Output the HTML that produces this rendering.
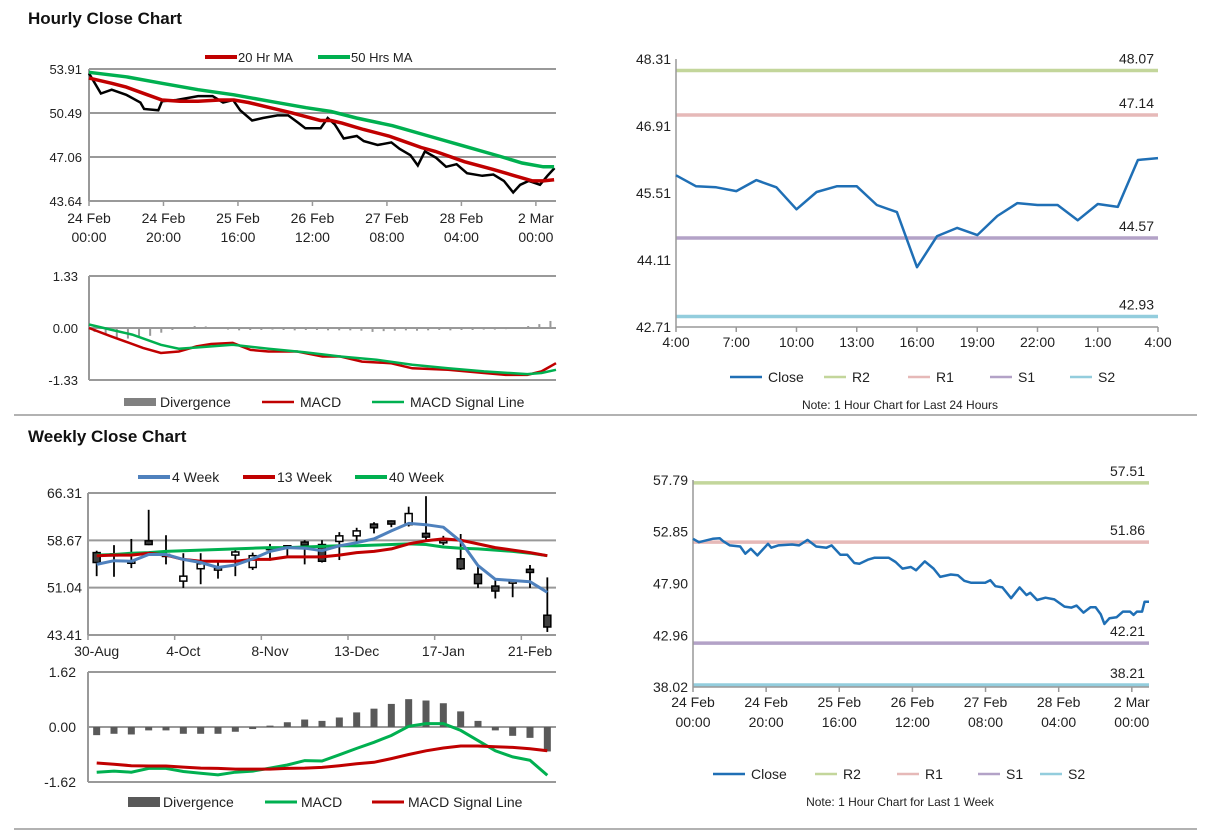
<!DOCTYPE html>
<html><head><meta charset="utf-8"><style>
html,body{margin:0;padding:0;background:#fff;width:1212px;height:834px;overflow:hidden}
svg{position:absolute;left:0;top:0;font-family:"Liberation Sans",Arial,sans-serif}
</style></head><body>
<svg id="s" width="1212" height="834" viewBox="0 0 1212 834">
<text x="28" y="24" font-size="17" font-weight="bold" fill="#111">Hourly Close Chart</text>
<text x="28" y="442" font-size="17" font-weight="bold" fill="#111">Weekly Close Chart</text>
<line x1="14" y1="415" x2="1197" y2="415" stroke="#999" stroke-width="1.5"/>
<line x1="14" y1="829" x2="1197" y2="829" stroke="#999" stroke-width="1.5"/>
</svg>
<script>
// ---------- DATA ----------
// Hourly close (top-left)
const hcT=[0,3.2,6.1,10,13.8,14.8,18.6,19.6,23.5,29.3,33.2,36,38.7,40.6,43.8,46.7,50.6,53.5,56.3,58.1,62.2,64.1,66,68.4,71.9,73.8,77.5,81.2,83.4,86.3,88.3,90.2,93.2,95.9,98.7,101.5,105.6,108.6,111.4,113.9,115.8,118.1,121.1,123.1,125];
const hcClose=[53.57,52.0,52.3,51.9,51.3,50.8,50.7,51.4,51.5,51.8,51.8,51.3,51.5,50.7,49.9,50.1,50.3,50.3,49.7,49.3,49.3,50.1,49.6,48.5,48.7,48.3,48.0,48.2,47.7,47.2,46.4,47.5,47.0,46.3,46.5,45.8,45.6,45.7,45.2,44.3,44.9,45.2,44.9,45.6,46.2];
const ma20T=[0,6.1,10,15.7,19.6,24.4,29.3,35.1,38.9,42.8,48.6,54.4,62.1,65,67.9,73.7,80.5,83.4,89.2,93,100.8,108.5,114.3,119.1,122,124.9];
const ma20=[53.2,52.8,52.5,51.9,51.5,51.4,51.4,51.5,51.5,51.3,50.9,50.5,49.9,49.9,49.7,49.2,48.7,48.4,47.8,47.5,46.7,46.1,45.6,45.2,45.2,45.3];
const ma50T=[0,10,19.6,29.3,38.9,48.6,58.3,65,71.8,81.5,91.2,100.8,110.5,116.3,122,124.9];
const ma50=[53.65,53.3,52.8,52.3,51.9,51.4,50.9,50.6,50.1,49.5,48.7,47.9,47.1,46.6,46.3,46.3];
const hTicks=["24 Feb|00:00","24 Feb|20:00","25 Feb|16:00","26 Feb|12:00","27 Feb|08:00","28 Feb|04:00","2 Mar|00:00"];
const hYTicks=[53.91,50.49,47.06,43.64];
// Hourly MACD
const hmT=[0,5.8,9.6,14.5,19.3,24.1,28.9,32.8,38.6,43.4,48.2,55.9,62.7,67.5,73.3,81,86.8,96.4,106.1,111.9,117.7,121.5,125.4];
const hMacd=[0,-0.21,-0.34,-0.51,-0.64,-0.6,-0.47,-0.41,-0.38,-0.56,-0.6,-0.6,-0.73,-0.73,-0.86,-0.9,-1.03,-1.07,-1.15,-1.2,-1.2,-1.11,-0.9];
const hsT=[0,5.8,11.6,19.3,24.1,28.9,38.6,48.2,57.9,67.5,77.2,86.8,96.4,106.1,117.7,121.5,125.4];
const hSig=[0.09,-0.04,-0.17,-0.43,-0.53,-0.5,-0.43,-0.53,-0.62,-0.73,-0.81,-0.94,-1.03,-1.11,-1.18,-1.15,-1.07];
const hDiv=[-0.1,-0.18,-0.25,-0.27,-0.25,-0.2,-0.12,-0.05,0.0,0.05,0.04,0.0,-0.04,-0.06,-0.05,-0.05,-0.04,-0.05,-0.06,-0.05,-0.05,-0.06,-0.06,-0.06,-0.07,-0.1,-0.08,-0.07,-0.06,-0.07,-0.06,-0.05,-0.06,-0.05,-0.05,-0.04,-0.04,-0.03,0.0,0.05,0.1,0.18];
const hMYTicks=[1.33,0.00,-1.33];
// 24h chart (top-right)
const dCats=["4:00","5:00","6:00","7:00","8:00","9:00","10:00","11:00","12:00","13:00","14:00","15:00","16:00","17:00","18:00","19:00","20:00","21:00","22:00","23:00","0:00","1:00","2:00","3:00","4:00"];
const dClose=[45.88,45.65,45.63,45.55,45.78,45.63,45.17,45.53,45.65,45.65,45.26,45.11,43.96,44.61,44.78,44.63,45.03,45.3,45.26,45.26,44.94,45.28,45.22,46.2,46.24];
const dLevels=[48.07,47.14,44.57,42.93];
const dYTicks=[48.31,46.91,45.51,44.11,42.71];
// Weekly candles
const wCats=["30-Aug","6-Sep","13-Sep","20-Sep","27-Sep","4-Oct","11-Oct","18-Oct","25-Oct","1-Nov","8-Nov","15-Nov","22-Nov","29-Nov","6-Dec","13-Dec","20-Dec","27-Dec","3-Jan","10-Jan","17-Jan","24-Jan","31-Jan","7-Feb","14-Feb","21-Feb","28-Feb"];
const wOpen=[56.7,56.5,55.3,58.6,56.4,52.1,54.1,54.2,56.3,54.3,57.5,57.8,58.4,58.0,58.5,59.4,61.3,61.8,61.2,59.8,58.6,55.7,53.2,51.3,52.1,54.0,46.6];
const wClose=[55.1,56.5,55.3,58.0,56.4,52.9,54.9,54.2,56.8,56.2,57.5,57.8,57.9,55.3,59.4,60.2,60.7,61.3,63.0,59.2,58.6,54.1,51.7,50.5,52.1,53.5,44.7];
const wHigh=[57.0,57.9,58.9,63.6,59.5,56.6,56.6,55.4,57.3,56.7,58.1,57.9,58.7,58.7,60.0,60.7,61.6,61.9,64.1,65.8,59.4,59.7,54.5,52.3,52.4,54.7,52.7];
const wLow=[52.9,52.8,54.2,57.9,54.8,51.0,51.6,52.5,52.9,53.9,55.4,56.2,54.8,55.1,55.5,58.5,59.8,60.8,60.9,58.5,57.9,53.9,51.0,49.3,49.5,51.0,43.9];
const w4=[54.8,55.4,55.3,56.4,56.4,55.6,55.1,54.3,54.7,55.7,56.9,57.5,57.4,57.0,57.8,58.3,58.9,60.2,61.4,61.2,60.8,58.5,54.6,52.4,52.2,52.0,50.3];
const w13=[56.2,56.3,56.3,56.6,56.3,55.6,55.3,55.3,55.3,55.6,55.6,56.0,56.0,56.0,56.3,56.7,56.9,57.3,58.1,58.6,58.9,58.7,58.1,57.5,57.1,56.7,56.2];
const w40=[56.3,56.4,56.6,56.7,56.9,57.0,57.1,57.2,57.3,57.4,57.5,57.5,57.6,57.7,57.8,57.8,57.9,58.0,58.1,58.0,57.6,57.4,57.3,57.1,56.9,56.6,56.2];
const wXLabels=["30-Aug","4-Oct","8-Nov","13-Dec","17-Jan","21-Feb"];
const wYTicks=[66.31,58.67,51.04,43.41];
// Weekly MACD
const wDiv=[-0.24,-0.2,-0.22,-0.1,-0.1,-0.2,-0.2,-0.2,-0.14,-0.06,0.04,0.14,0.22,0.18,0.28,0.43,0.54,0.68,0.82,0.78,0.7,0.46,0.18,-0.1,-0.26,-0.32,-0.72];
const wMacd=[-1.33,-1.3,-1.33,-1.22,-1.22,-1.31,-1.36,-1.41,-1.33,-1.3,-1.21,-1.12,-0.99,-1.0,-0.82,-0.63,-0.45,-0.25,0.02,0.1,0.1,-0.1,-0.4,-0.7,-0.88,-0.98,-1.42];
const wSig=[-1.06,-1.1,-1.14,-1.15,-1.15,-1.18,-1.21,-1.22,-1.24,-1.24,-1.24,-1.22,-1.21,-1.19,-1.14,-1.08,-1.04,-0.93,-0.81,-0.7,-0.62,-0.56,-0.56,-0.58,-0.6,-0.64,-0.7];
const wMYTicks=[1.62,0.00,-1.62];
// 1-week chart (bottom-right)
const kT=[0,1.6,5.4,7.3,8.2,10.1,12.9,14.3,15.8,17.6,20.5,21.4,23.3,27.1,29,31.3,33.7,36.5,37.9,40.3,42.2,44.1,45.5,47.8,49.7,53.5,55.4,57.3,59.6,61,63.4,65.8,67.6,70.5,72.4,74.2,76.1,79.9,81.3,82.7,84.6,87,89.3,91.2,92.2,94.1,96.4,98.8,101.6,103.5,104.9,106.8,108.7,110.1,111.5,112.5,113.9,115.8,117.6,119.5,120.5,121.4,122.8,123.5,124.7];
const kClose=[52.17,51.85,52.17,52.23,51.95,51.54,51.44,50.75,51.22,50.59,51.7,51.32,51.54,51.63,51.54,52.07,51.44,51.32,51.54,50.65,50.65,49.86,49.8,50.18,50.37,50.37,49.96,49.33,49.48,49.17,50.02,49.33,48.54,48.76,48.7,48.16,47.97,47.97,48.22,47.65,47.53,46.5,47.53,46.8,47.02,46.33,46.55,46.39,45.7,45.6,45.79,45.13,45.63,45.63,44.97,44.05,44.59,44.68,45.22,45.22,44.91,45.22,45.22,46.17,46.17];
const kLevels=[57.51,51.86,42.21,38.21];
const kYTicks=[57.79,52.85,47.90,42.96,38.02];
const kXLabels=["24 Feb|00:00","24 Feb|20:00","25 Feb|16:00","26 Feb|12:00","27 Feb|08:00","28 Feb|04:00","2 Mar|00:00"];

// ---------- HELPERS ----------
const S=document.getElementById('s');const NS='http://www.w3.org/2000/svg';
function el(tag,a){const e=document.createElementNS(NS,tag);for(const k in a)e.setAttribute(k,a[k]);S.appendChild(e);return e;}
function lin(d0,d1,r0,r1){return v=>r0+(v-d0)/(d1-d0)*(r1-r0);}
function txt(x,y,s,size,anchor,fill){const t=el('text',{x:x,y:y,'font-size':size||13,'text-anchor':anchor||'middle',fill:fill||'#222'});t.textContent=s;return t;}
function pts(xs,ys,fx,fy){return xs.map((x,i)=>fx(x).toFixed(1)+','+fy(ys[i]).toFixed(1)).join(' ');}
const RED='#c00000',GRN='#00b050',BLU='#4f81bd',DBLU='#1f6fb5',GRY='#595959';

// ---------- TOP-LEFT HOURLY ----------
{const X=lin(0,125.4,89,556),Y=lin(43.64,53.91,201,69);
hYTicks.forEach(v=>{const g=el('line',{x1:89,x2:556,y1:Y(v),y2:Y(v),stroke:'#999','stroke-width':2});


const t=txt(82,Y(v)+5,v.toFixed(2),13,'end');

});
const ax=el('line',{x1:89,x2:89,y1:69,y2:201,stroke:'#999','stroke-width':2});


hTicks.forEach((s,i)=>{const x=X(i*20);el('line',{x1:x,x2:x,y1:201,y2:206,stroke:'#999','stroke-width':1.5});const p=s.split('|');
const a=txt(x,223,p[0],14);

const b=txt(x,242,p[1],14);
});
const c=el('polyline',{points:pts(hcT,hcClose,X,Y),fill:'none',stroke:'#000','stroke-width':2.5});


const m2=el('polyline',{points:pts(ma50T,ma50,X,Y),fill:'none',stroke:GRN,'stroke-width':3.5});


const m1=el('polyline',{points:pts(ma20T,ma20,X,Y),fill:'none',stroke:RED,'stroke-width':3.5});


[[205,'20 Hr MA',RED],[318,'50 Hrs MA',GRN]].forEach(([x,s,c])=>{const l=el('line',{x1:x,x2:x+32,y1:57,y2:57,stroke:c,'stroke-width':4});


txt(x+33,62,s,13,'start');});
}
// ---------- TOP-LEFT MACD ----------
{const X=lin(0,125.4,89,556),Y=lin(-1.33,1.33,380,276);
hMYTicks.forEach(v=>{const g=el('line',{x1:89,x2:556,y1:Y(v),y2:Y(v),stroke:'#999','stroke-width':2});


txt(78,Y(v)+5,v.toFixed(2),13,'end');});
el('line',{x1:89,x2:89,y1:276,y2:380,stroke:'#999','stroke-width':2});
const bw=467/hDiv.length;
hDiv.forEach((v,i)=>{const x=89+bw*(i+0.5),y0=Y(0),y1=Y(v);const r=el('rect',{x:x-1,y:Math.min(y0,y1),width:2,height:Math.max(0.5,Math.abs(y1-y0)),fill:'#999'});

});
const a=el('polyline',{points:pts(hmT,hMacd,X,Y),fill:'none',stroke:RED,'stroke-width':2.5});


const b=el('polyline',{points:pts(hsT,hSig,X,Y),fill:'none',stroke:GRN,'stroke-width':2.5});


const r=el('rect',{x:124,y:398,width:32,height:8,fill:'#808080'});


txt(160,407,'Divergence',14,'start');
[[262,'MACD',RED],[372,'MACD Signal Line',GRN]].forEach(([x,s,c])=>{const l=el('line',{x1:x,x2:x+32,y1:402,y2:402,stroke:c,'stroke-width':2.5});


txt(x+38,407,s,14,'start');});
}
// ---------- level chart helper ----------
function levelChart(x0,x1,yTop,yBot,dMin,dMax,tMax,yTicks,xs,ys,levels,xLabels,xStep,legY,note,prefix,twoLine){
const X=lin(0,tMax,x0,x1),Y=lin(dMin,dMax,yBot,yTop);
const lc=['#c3d69b','#e6b9b8','#b3a2c7','#93cddd'];
levels.forEach((v,i)=>{const l=el('line',{x1:x0,x2:x1,y1:Y(v),y2:Y(v),stroke:lc[i],'stroke-width':3.5});


const t=txt(x1-4,Y(v)-7,v.toFixed(2),14,'end');

});
el('line',{x1:x0,x2:x0,y1:yTop,y2:yBot,stroke:'#999','stroke-width':1.5});
el('line',{x1:x0,x2:x1,y1:yBot,y2:yBot,stroke:'#999','stroke-width':1.5});
yTicks.forEach(v=>{const t=txt(x0-5,Y(v)+5,v.toFixed(2),14,'end');

});
xLabels.forEach((s,i)=>{const x=X(i*xStep);el('line',{x1:x,x2:x,y1:yBot,y2:yBot+5,stroke:'#999','stroke-width':1.5});
const p=s.split('|');const a=txt(x,yBot+20,p[0],14);


if(p[1]){const b=txt(x,yBot+40,p[1],14);

}});
const c=el('polyline',{points:pts(xs,ys,X,Y),fill:'none',stroke:DBLU,'stroke-width':2.5,'stroke-linejoin':'round'});


const L=[['Close',DBLU],['R2',lc[0]],['R1',lc[1]],['S1',lc[2]],['S2',lc[3]]];
const lx=twoLine?[713,815,897,978,1040]:[730,824,908,990,1070];
L.forEach(([s,c],i)=>{const l=el('line',{x1:lx[i],x2:lx[i]+(i?22:32),y1:legY,y2:legY,stroke:c,'stroke-width':2.5});


txt(lx[i]+(i?28:38),legY+5,s,14,'start');});
const n=txt(900,legY+32,note,12);


}
levelChart(676,1158,59,327,42.71,48.31,24,dYTicks,dCats.map((c,i)=>i),dClose,dLevels,dCats.filter((c,i)=>i%3==0),3,377,'Note: 1 Hour Chart for Last 24 Hours','daily',false);
levelChart(693,1149,480,687,38.02,57.79,124.7,kYTicks,kT,kClose,kLevels,kXLabels,20,774,'Note: 1 Hour Chart for Last 1 Week','weekly-hourly',true);

// ---------- WEEKLY CANDLES ----------
{const n=wCats.length,bw=468/n,X=i=>88+bw*(i+0.5),Y=lin(43.41,66.31,635,493);
wYTicks.forEach(v=>{const g=el('line',{x1:88,x2:556,y1:Y(v),y2:Y(v),stroke:'#999','stroke-width':2});


txt(82,Y(v)+5,v.toFixed(2),14,'end');});
el('line',{x1:88,x2:88,y1:493,y2:635,stroke:'#999','stroke-width':2});
wXLabels.forEach(s=>{const i=wCats.indexOf(s);el('line',{x1:88+bw*i,x2:88+bw*i,y1:635,y2:640,stroke:'#999','stroke-width':1.5});
const t=txt(X(i),656,s,14);

});
wCats.forEach((c,i)=>{const w=el('line',{x1:X(i),x2:X(i),y1:Y(wHigh[i]),y2:Y(wLow[i]),stroke:'#000','stroke-width':1.8});


const up=wClose[i]>=wOpen[i];const t=Y(Math.max(wOpen[i],wClose[i])),b=Y(Math.min(wOpen[i],wClose[i]));
const r=el('rect',{x:X(i)-3.5,y:t,width:7,height:Math.max(2,b-t),fill:up?'#fff':'#404040',stroke:'#000','stroke-width':1.5});

});
const idx=wCats.map((c,i)=>i);
[[w40,GRN,'ma-40-week'],[w13,RED,'ma-13-week'],[w4,BLU,'ma-4-week']].forEach(([d,c,nm])=>{const p=el('polyline',{points:pts(idx,d,X,Y),fill:'none',stroke:c,'stroke-width':3,'stroke-linejoin':'round'});

});
[[138,'4 Week',BLU],[243,'13 Week',RED],[355,'40 Week',GRN]].forEach(([x,s,c])=>{const l=el('line',{x1:x,x2:x+32,y1:477,y2:477,stroke:c,'stroke-width':4});


txt(x+34,482,s,14,'start');});
}
// ---------- WEEKLY MACD ----------
{const n=wCats.length,bw=468/n,X=i=>88+bw*(i+0.5),Y=lin(-1.62,1.62,782,672);
wMYTicks.forEach(v=>{const g=el('line',{x1:88,x2:556,y1:Y(v),y2:Y(v),stroke:'#999','stroke-width':2});


txt(76,Y(v)+5,v.toFixed(2),14,'end');});
el('line',{x1:88,x2:88,y1:672,y2:782,stroke:'#999','stroke-width':2});
wDiv.forEach((v,i)=>{const y0=Y(0),y1=Y(v);const r=el('rect',{x:X(i)-3.5,y:Math.min(y0,y1),width:7,height:Math.abs(y1-y0),fill:GRY});

});
const idx=wCats.map((c,i)=>i);
const a=el('polyline',{points:pts(idx,wMacd,X,Y),fill:'none',stroke:GRN,'stroke-width':3});


const b=el('polyline',{points:pts(idx,wSig,X,Y),fill:'none',stroke:RED,'stroke-width':3});


const r=el('rect',{x:128,y:797,width:32,height:10,fill:GRY});


txt(163,807,'Divergence',14,'start');
[[265,'MACD',GRN],[372,'MACD Signal Line',RED]].forEach(([x,s,c])=>{const l=el('line',{x1:x,x2:x+32,y1:802,y2:802,stroke:c,'stroke-width':3});


txt(x+36,807,s,14,'start');});
}
</script>
</body></html>
